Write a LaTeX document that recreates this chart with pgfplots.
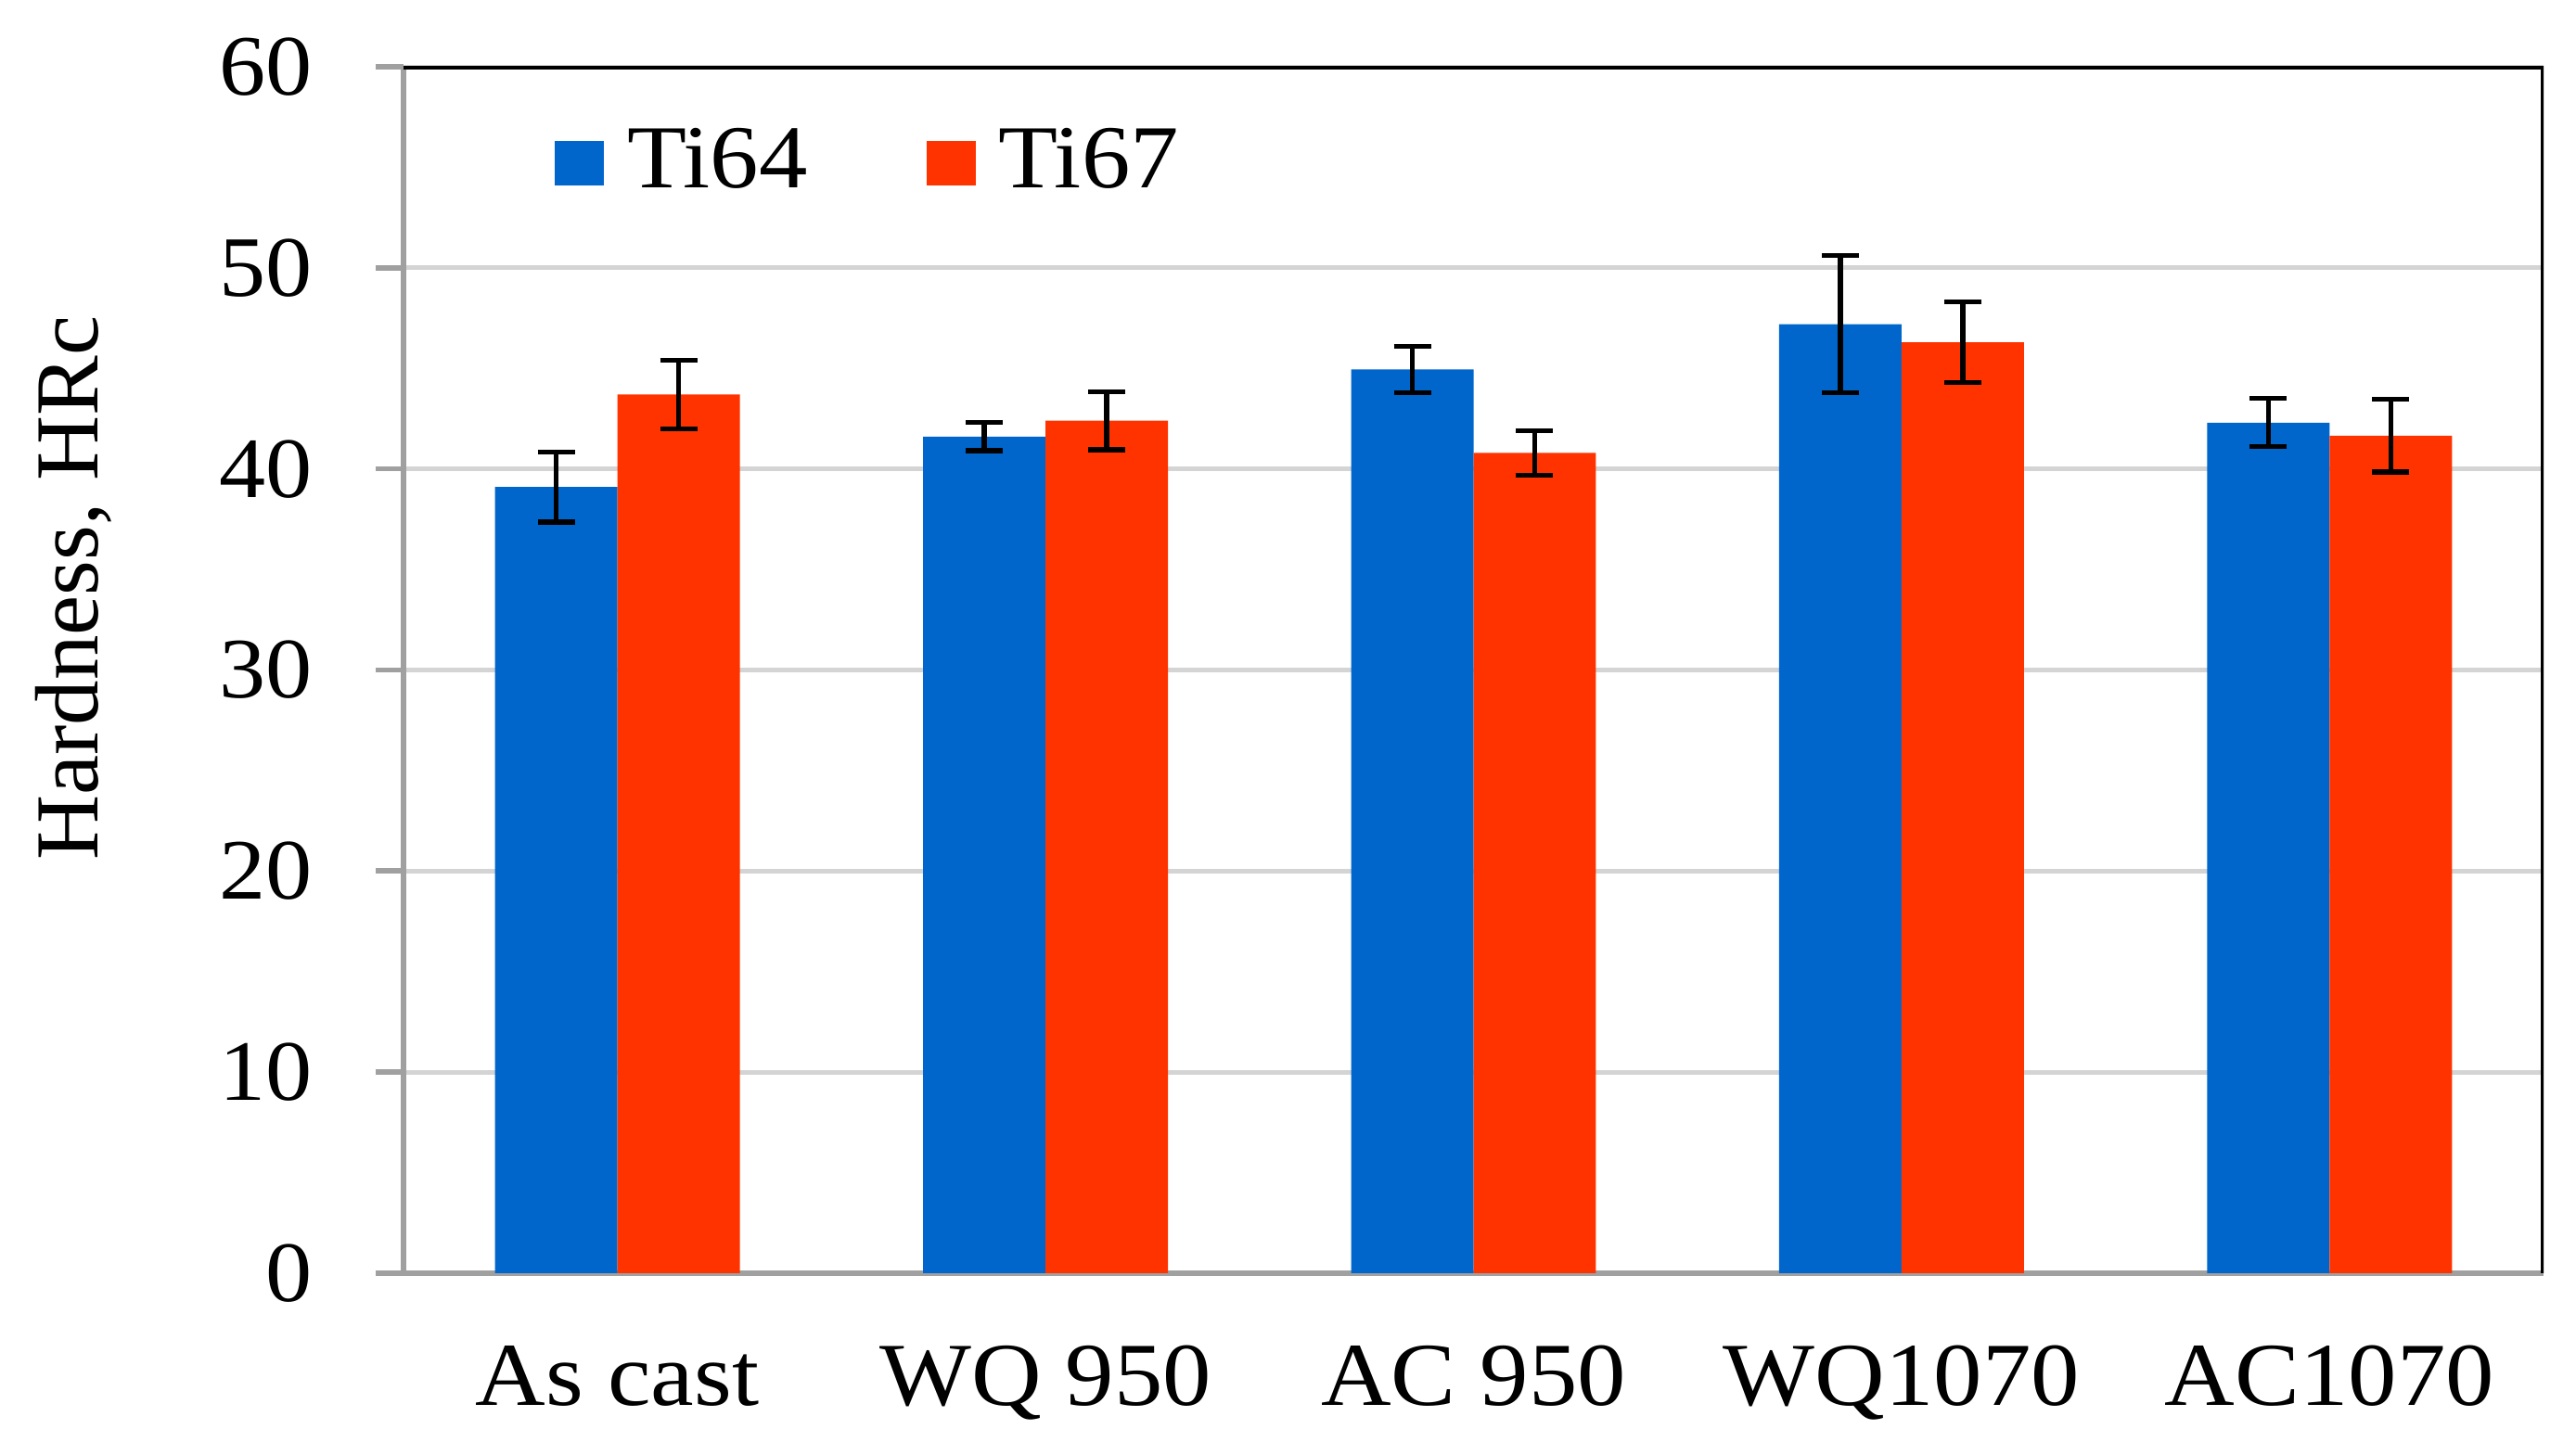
\documentclass[border=0pt]{standalone}
\usepackage{fontspec}
\setmainfont{Liberation Serif}[FakeStretch=1.08]
\newfontfamily\plainserif{Liberation Serif}
\usepackage{pgfplots}
\pgfplotsset{compat=1.18}
\definecolor{tiblue}{RGB}{0,102,204}
\definecolor{tired}{RGB}{255,51,0}
\definecolor{axisgray}{RGB}{160,160,160}
\definecolor{gridgray}{RGB}{212,212,212}

\begin{document}
\begin{tikzpicture}
\useasboundingbox (-2.175,-0.91) rectangle (11.71,6.865);
\begin{axis}[
    at={(0,0)}, anchor=south west,
    scale only axis, width=11.535cm, height=6.505cm,
    ybar=0pt, bar width=0.286,
    xmin=-0.5, xmax=4.5, ymin=0, ymax=60,
    ytick={0,10,...,60},
    xtick={0,1,2,3,4},
    xticklabels={As cast, WQ 950, AC 950, WQ1070, AC1070},
    axis lines=left,
    axis line style={-, draw=axisgray, line width=0.8pt},
    ymajorgrids,
    grid style={draw=gridgray, line width=0.7pt},
    ytick style={draw=axisgray, line width=0.8pt},
    xtick style={draw=none},
    tick align=outside, major tick length=0.15cm,
    /pgf/number format/assume math mode=true,
    yticklabel style={font=\fontsize{13.2}{16}\selectfont,
        anchor=east, inner sep=0pt, xshift=-0.335cm},
    xticklabel style={font=\fontsize{13.8}{16}\selectfont,
        anchor=base, inner sep=0pt, yshift=-0.565cm},
    ylabel={Hardness, HRc},
    ylabel style={font=\plainserif\fontsize{13.8}{16}\selectfont,
        at={(axis description cs:-0.154,0.568)}, anchor=center},
    legend style={at={(0.0702,0.92)}, anchor=west, draw=none, fill=none,
        inner sep=0pt, legend columns=2,
        font=\fontsize{13.8}{16}\selectfont,
        nodes={inner sep=0pt},
        /tikz/every odd column/.append style={column sep=0.125cm},
        /tikz/every even column/.append style={column sep=0.64cm}},
    legend image code/.code={\fill[#1] (0cm,-0.12cm) rectangle (0.265cm,0.12cm);},
    error bars/error bar style={draw=black, line width=0.75pt},
    error bars/error mark options={rotate=90, draw=black, line width=0.75pt, mark size=0.1cm},
]

\addplot[fill=tiblue, draw=none, bar shift=-0.143,
    error bars/.cd, y dir=both, y explicit]
    coordinates {
        (0,39.1)  +- (0,1.75)
        (1,41.6)  +- (0,0.7)
        (2,44.95) +- (0,1.15)
        (3,47.2)  +- (0,3.4)
        (4,42.3)  +- (0,1.2)
    };

\addplot[fill=tired, draw=none, bar shift=0.143,
    error bars/.cd, y dir=both, y explicit]
    coordinates {
        (0,43.7)  +- (0,1.7)
        (1,42.4)  +- (0,1.45)
        (2,40.8)  +- (0,1.1)
        (3,46.3)  +- (0,2.0)
        (4,41.65) +- (0,1.8)
    };

\legend{Ti64, Ti67}

\draw[black, line width=0.9pt] (rel axis cs:0,1) -- (rel axis cs:1,1) -- (rel axis cs:1,0);
\end{axis}
\end{tikzpicture}
\end{document}
